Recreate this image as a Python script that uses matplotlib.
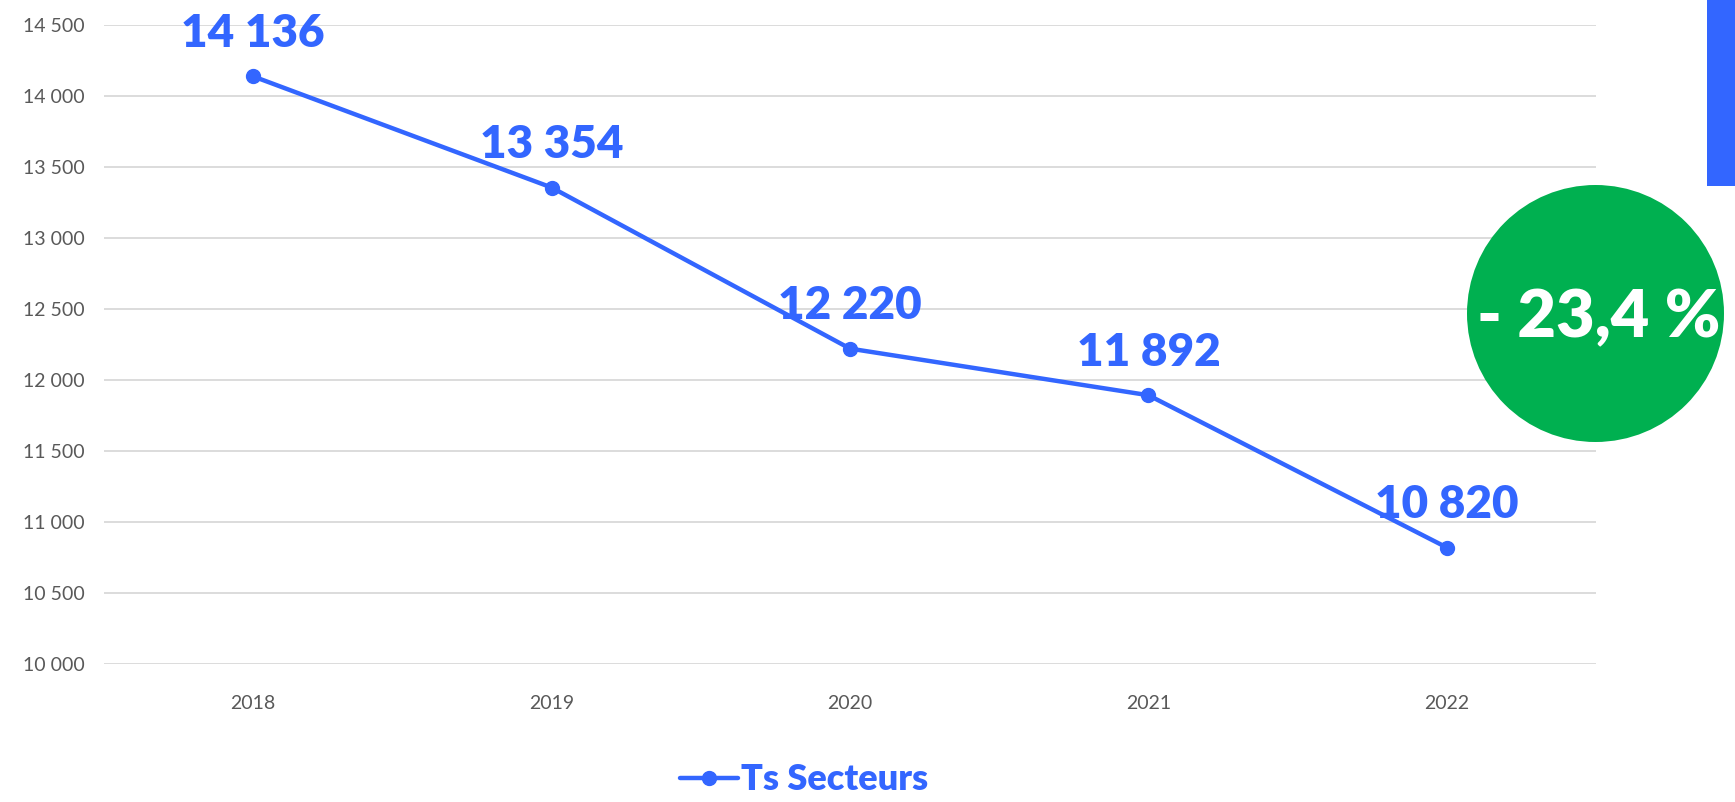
import matplotlib
matplotlib.use("Agg")
import matplotlib.pyplot as plt
from matplotlib.patches import Circle, Rectangle
from matplotlib.transforms import IdentityTransform

years = ["2018", "2019", "2020", "2021", "2022"]
values = [14136, 13354, 12220, 11892, 10820]
value_labels = ["14 136", "13 354", "12 220", "11 892", "10 820"]
yticks = [10000, 10500, 11000, 11500, 12000, 12500, 13000, 13500, 14000, 14500]
ytick_labels = ["10 000", "10 500", "11 000", "11 500", "12 000", "12 500",
                "13 000", "13 500", "14 000", "14 500"]
series_name = "Ts Secteurs"
badge_text = "- 23,4 %"

BLUE = "#3366FF"
GREEN = "#00B050"
GRID = "#D9D9D9"
TICK = "#595959"

plt.rcParams['font.family'] = ['Lato', 'DejaVu Sans']

W, H = 1735, 802
fig = plt.figure(figsize=(W / 100, H / 100), dpi=100)
ax = fig.add_axes([104 / W, 1 - 664 / H, (1596 - 104) / W, (664 - 24.7) / H])

x = list(range(len(years)))
line, = ax.plot(x, values, color=BLUE, lw=3.2, marker='o', ms=10,
                solid_capstyle='round', label=series_name, zorder=3)

for xi, v, lab in zip(x, values, value_labels):
    ax.annotate(lab, (xi, v), xytext=(0, 31), textcoords='offset points',
                ha='center', va='center', fontsize=33, fontweight='heavy',
                color=BLUE, annotation_clip=False)

ax.set_xlim(-0.5, len(years) - 0.5)
ax.set_ylim(10000, 14500)
ax.set_yticks(yticks)
ax.set_yticklabels(ytick_labels)
ax.set_xticks(x)
ax.set_xticklabels(years)
ax.tick_params(axis='both', length=0, labelsize=14, colors=TICK)
ax.tick_params(axis='x', pad=22)
ax.tick_params(axis='y', pad=14)
ax.grid(axis='y', color=GRID, lw=1.3)
ax.set_axisbelow(True)
for s in ax.spines.values():
    s.set_visible(False)

# Badge circle
circ = Circle((1595.5, H - 313.5), 128.5, transform=IdentityTransform(),
              facecolor=GREEN, edgecolor='none', zorder=5)
fig.patches.append(circ)
fig.text(1599 / W, 1 - 318 / H, badge_text, ha='center', va='center',
         fontsize=48, fontweight='heavy', color='white', zorder=6)

# Blue bar at top right
rect = Rectangle((1707, H - 186), 40, 186, transform=IdentityTransform(),
                 facecolor=BLUE, edgecolor='none')
fig.patches.append(rect)

leg = fig.legend(handles=[line], loc='center', bbox_to_anchor=(804 / W, 1 - 780 / H),
                 frameon=False, handlelength=1.6, handletextpad=0.1,
                 borderpad=0.2, prop={'size': 26, 'weight': 'heavy'})
for t in leg.get_texts():
    t.set_color(BLUE)

fig.savefig("out.png", dpi=100)
